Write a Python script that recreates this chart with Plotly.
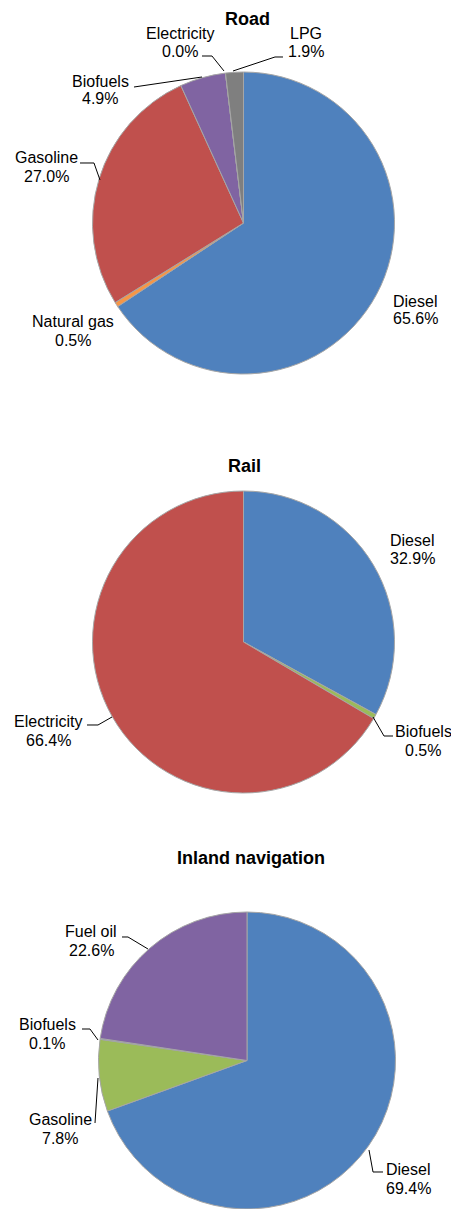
import plotly.graph_objects as go

# The page body has an 8px default margin, so the figure is sized to fill
# the rest of the 459x1209 window and positions are given in window pixels.
OFF = 8
W, H = 459 - OFF, 1209 - OFF

# ---- data ----
road_labels = ["Diesel", "Natural gas", "Gasoline", "Biofuels", "Electricity", "LPG"]
road_values = [65.6, 0.5, 27.0, 4.9, 0.0, 1.9]
road_colors = ["#4F81BD", "#F79646", "#C0504D", "#8064A2", "#4BACC6", "#7F7F7F"]

rail_labels = ["Diesel", "Biofuels", "Electricity"]
rail_values = [32.9, 0.5, 66.4]
rail_colors = ["#4F81BD", "#9BBB59", "#C0504D"]

inland_labels = ["Diesel", "Gasoline", "Biofuels", "Fuel oil"]
inland_values = [69.4, 7.8, 0.1, 22.6]
inland_colors = ["#4F81BD", "#9BBB59", "#4BACC6", "#8064A2"]

titles = ["Road", "Rail", "Inland navigation"]


def px(x):
    return (x - OFF) / W


def py(y):
    return 1 - (y - OFF) / H


def dom(cx, cy, r):
    return dict(x=[max(0, px(cx - r)), min(1, px(cx + r))],
                y=[max(0, py(cy + r)), min(1, py(cy - r))])


FONT = "Liberation Sans, Arial, sans-serif"
fig = go.Figure()

pies = [
    (road_labels, road_values, road_colors, (243.5, 223, 151)),
    (rail_labels, rail_values, rail_colors, (243.5, 642, 151)),
    (inland_labels, inland_values, inland_colors, (247, 1060.5, 148.5)),
]
for labels, values, colors, (cx, cy, r) in pies:
    fig.add_trace(go.Pie(
        labels=labels, values=values, sort=False, direction="clockwise",
        rotation=0, textinfo="none", hoverinfo="label+percent",
        marker=dict(colors=colors, line=dict(color="#A6A6A6", width=1)),
        domain=dom(cx, cy, r), showlegend=False,
    ))

# titles
title_pos = [(248, 19), (244, 466), (251, 858)]
annotations = []
for t, (x, y) in zip(titles, title_pos):
    annotations.append(dict(x=px(x), y=py(y), xref="paper", yref="paper",
                            text="<b>%s</b>" % t, showarrow=False,
                            font=dict(family=FONT, size=18, color="#000"),
                            xanchor="center", yanchor="middle"))

# label placements: (x center, y of name line, y of percent line)
label_pos = [
    (road_labels, road_values, {
        "Diesel": (415, 301.5, 318.5), "Natural gas": (73, 322, 340),
        "Gasoline": (46, 158, 176), "Biofuels": (100, 81.5, 99),
        "Electricity": (180, 33.5, 51.5), "LPG": (306, 33.5, 51.5)}),
    (rail_labels, rail_values, {
        "Diesel": (412, 540, 558), "Biofuels": (423, 731.5, 750),
        "Electricity": (48, 721.5, 740)}),
    (inland_labels, inland_values, {
        "Diesel": (408, 1169.5, 1188), "Gasoline": (60, 1119.5, 1138),
        "Biofuels": (47, 1024.5, 1043), "Fuel oil": (91, 931.5, 950)}),
]
for labels, values, pos in label_pos:
    for lbl, v in zip(labels, values):
        x, y1, y2 = pos[lbl]
        for txt, yy in ((lbl, y1), ("%.1f%%" % v, y2)):
            annotations.append(dict(x=px(x), y=py(yy), xref="paper", yref="paper",
                                    text=txt, showarrow=False,
                                    font=dict(family=FONT, size=16, color="#000"),
                                    xanchor="center", yanchor="middle"))

# leader lines (window pixel points)
leaders = [
    [(202, 56), (212, 56), (224, 71)],
    [(283, 57), (275, 57), (233, 71)],
    [(134, 87), (202, 77)],
    [(80, 163), (94, 163), (100, 180)],
    [(393, 736), (384, 736), (373, 717)],
    [(87, 725), (98, 725), (112, 717)],
    [(122, 937), (128, 937), (148, 949)],
    [(82, 1029), (90, 1029), (98, 1040)],
    [(95, 1123), (98, 1078)],
    [(383, 1172), (373, 1172), (369, 1150)],
]
shapes = []
for pts in leaders:
    path = "M " + " L ".join("%f,%f" % (px(x), py(y)) for x, y in pts)
    shapes.append(dict(type="path", xref="paper", yref="paper", path=path,
                       line=dict(color="#000", width=1)))

fig.update_layout(
    width=W, height=H, margin=dict(l=0, r=0, t=0, b=0),
    paper_bgcolor="white", plot_bgcolor="white",
    annotations=annotations, shapes=shapes,
    font=dict(family=FONT),
)
fig.write_html("out.html")
